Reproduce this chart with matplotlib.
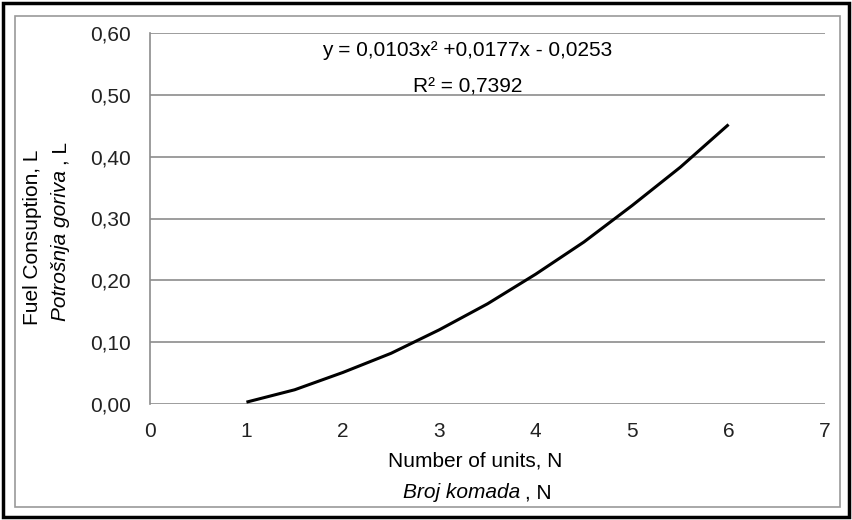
import matplotlib.pyplot as plt
from matplotlib.patches import Rectangle

# values
broj_komada = [1.0, 1.5, 2.0, 2.5, 3.0, 3.5, 4.0, 4.5, 5.0, 5.5, 6.0]
potrosnja = [0.003, 0.023, 0.051, 0.082, 0.120, 0.162, 0.210, 0.262, 0.321, 0.383, 0.452]

x_ticks = [0, 1, 2, 3, 4, 5, 6, 7]
y_ticks = [0.0, 0.1, 0.2, 0.3, 0.4, 0.5, 0.6]
y_tick_labels = ["0,00", "0,10", "0,20", "0,30", "0,40", "0,50", "0,60"]

plt.rcParams['font.family'] = ['Liberation Sans', 'DejaVu Sans']
fs = 15

fig = plt.figure(figsize=(8.52, 5.20), dpi=100)

# outer frames
fig.patches.append(Rectangle((0.004, 0.006), 0.992, 0.988, transform=fig.transFigure,
                             fill=False, edgecolor='black', linewidth=2.5))
fig.patches.append(Rectangle((0.018, 0.025), 0.968, 0.945, transform=fig.transFigure,
                             fill=False, edgecolor='#9a9a9a', linewidth=1.2))

ax = fig.add_axes([150 / 852, 1 - 404 / 520, (825 - 150) / 852, (404 - 33) / 520])

ax.plot(broj_komada, potrosnja, color='black', linewidth=2.2, solid_capstyle='butt')

ax.set_xlim(0, 7)
ax.set_ylim(0, 0.6)
ax.set_xticks(x_ticks)
ax.set_yticks(y_ticks)
ax.set_yticklabels(y_tick_labels)
ax.tick_params(length=0, labelsize=fs, colors='#222222')
ax.tick_params(axis='y', pad=14)
ax.tick_params(axis='x', pad=13)

ax.grid(axis='y', color='#8c8c8c', linewidth=1.2)
ax.set_axisbelow(True)
for side in ['top', 'right', 'bottom']:
    ax.spines[side].set_visible(False)
ax.spines['left'].set_color('#8c8c8c')
ax.spines['left'].set_linewidth(1.2)

fig.text(467 / 852, 1 - 51 / 520, "y = 0,0103x² +0,0177x - 0,0253",
         ha='center', va='center', fontsize=fs)
fig.text(468 / 852, 1 - 87 / 520, "R² = 0,7392",
         ha='center', va='center', fontsize=fs)

# axis titles, two lines each (local name in italics)
fig.text(475 / 852, 1 - 461 / 520, "Number of units, N", ha='center', va='center', fontsize=fs)
fig.text(520 / 852, 1 - 493 / 520, "Broj komada", ha='right', va='center',
         fontsize=fs, style='italic')
fig.text(525 / 852, 1 - 493 / 520, ", N", ha='left', va='center', fontsize=fs)

fig.text(33 / 852, 1 - 237 / 520, "Fuel Consuption, L", ha='center', va='center',
         fontsize=fs, rotation=90)
fig.text(61 / 852, 1 - 170 / 520, "Potrošnja goriva", ha='right', va='center',
         fontsize=fs, rotation=90, rotation_mode='anchor', style='italic')
fig.text(61 / 852, 1 - 165 / 520, ", L", ha='left', va='center',
         fontsize=fs, rotation=90, rotation_mode='anchor')

fig.savefig("out.png", dpi=100)
